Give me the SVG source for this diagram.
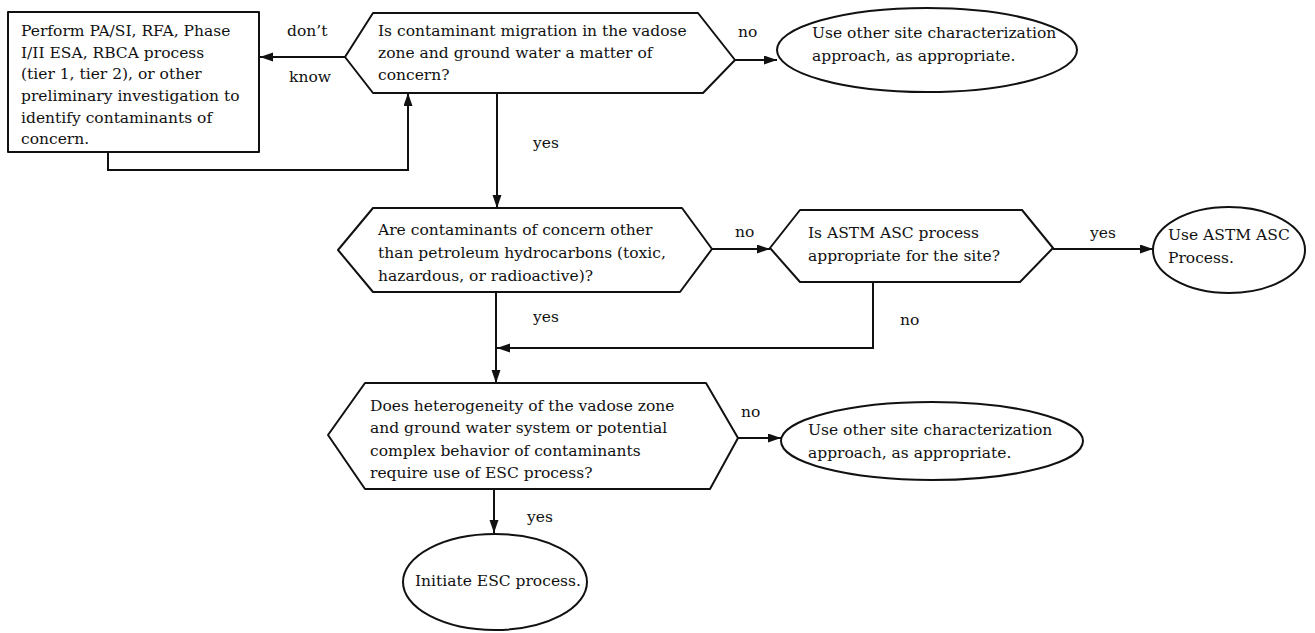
<svg xmlns="http://www.w3.org/2000/svg" width="1315" height="633" viewBox="0 0 1315 633">
<style>
  .shape { fill: #ffffff; stroke: #111111; stroke-width: 2; stroke-linejoin: round; }
  .conn { fill: none; stroke: #111111; stroke-width: 2; }
  text { font-family: "DejaVu Serif", "Liberation Serif", serif; font-size: 15.5px; fill: #111111; }
</style>
<defs>
  <marker id="arr" markerUnits="userSpaceOnUse" markerWidth="14" markerHeight="10" refX="13" refY="4.5" orient="auto">
    <path d="M0,0 L13,4.5 L0,9 z" fill="#111111"/>
  </marker>
</defs>
<rect width="1315" height="633" fill="#ffffff"/>

<g id="connectors">
  <path class="conn" d="M345,57 H260" marker-end="url(#arr)"/>
  <path class="conn" d="M108,152 V170 H408 V93" marker-end="url(#arr)"/>
  <path class="conn" d="M735,60 H777" marker-end="url(#arr)"/>
  <path class="conn" d="M497,93 V208" marker-end="url(#arr)"/>
  <path class="conn" d="M712,249 H770" marker-end="url(#arr)"/>
  <path class="conn" d="M1053,249 H1153" marker-end="url(#arr)"/>
  <path class="conn" d="M873,282 V348 H497" marker-end="url(#arr)"/>
  <path class="conn" d="M496,292 V383" marker-end="url(#arr)"/>
  <path class="conn" d="M738,438 H781" marker-end="url(#arr)"/>
  <path class="conn" d="M494,489 V533" marker-end="url(#arr)"/>
  <text x="287" y="36">don’t</text>
  <text x="289" y="82">know</text>
  <text x="738" y="37">no</text>
  <text x="533" y="148">yes</text>
  <text x="735" y="237">no</text>
  <text x="1090" y="238">yes</text>
  <text x="533" y="322">yes</text>
  <text x="900" y="325">no</text>
  <text x="741" y="417">no</text>
  <text x="527" y="522">yes</text>
</g>

<g id="box-preliminary">
  <rect class="shape" x="8" y="12" width="251" height="140"/>
  <text x="21" y="36">Perform PA/SI, RFA, Phase</text>
  <text x="21" y="58">I/II ESA, RBCA process</text>
  <text x="21" y="79">(tier 1, tier 2), or other</text>
  <text x="21" y="101">preliminary investigation to</text>
  <text x="21" y="123">identify contaminants of</text>
  <text x="21" y="144">concern.</text>
</g>

<g id="dec-migration">
  <polygon class="shape" points="345,57 373,13 698,13 735,60 703,93 373,93"/>
  <text x="378" y="36">Is contaminant migration in the vadose</text>
  <text x="378" y="58">zone and ground water a matter of</text>
  <text x="378" y="80">concern?</text>
</g>

<g id="end-other-1">
  <ellipse class="shape" cx="927" cy="50" rx="150" ry="42"/>
  <text x="812" y="38">Use other site characterization</text>
  <text x="812" y="61">approach, as appropriate.</text>
</g>

<g id="dec-contaminants">
  <polygon class="shape" points="338,250 373,208 682,208 712,249 680,292 373,292"/>
  <text x="378" y="235">Are contaminants of concern other</text>
  <text x="378" y="258">than petroleum hydrocarbons (toxic,</text>
  <text x="378" y="281">hazardous, or radioactive)?</text>
</g>

<g id="dec-astm">
  <polygon class="shape" points="770,248 800,210 1022,210 1053,248 1020,282 800,282"/>
  <text x="808" y="238">Is ASTM ASC process</text>
  <text x="808" y="261">appropriate for the site?</text>
</g>

<g id="end-astm">
  <ellipse class="shape" cx="1229" cy="250" rx="76" ry="43"/>
  <text x="1168" y="240">Use ASTM ASC</text>
  <text x="1168" y="263">Process.</text>
</g>

<g id="dec-heterogeneity">
  <polygon class="shape" points="328,435 365,383 706,383 738,438 710,489 365,489"/>
  <text x="370" y="411">Does heterogeneity of the vadose zone</text>
  <text x="370" y="433">and ground water system or potential</text>
  <text x="370" y="456">complex behavior of contaminants</text>
  <text x="370" y="478">require use of ESC process?</text>
</g>

<g id="end-other-2">
  <ellipse class="shape" cx="932" cy="441" rx="151" ry="39"/>
  <text x="808" y="435">Use other site characterization</text>
  <text x="808" y="458">approach, as appropriate.</text>
</g>

<g id="end-initiate">
  <ellipse class="shape" cx="495" cy="582" rx="92" ry="48"/>
  <text x="415" y="586">Initiate ESC process.</text>
</g>
</svg>
